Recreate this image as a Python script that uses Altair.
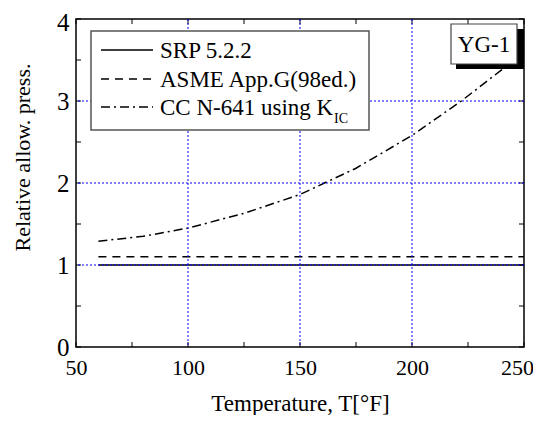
import altair as alt
import pandas as pd

# ---- data ----
series_names = ["SRP 5.2.2", "ASME App.G(98ed.)", "CC N-641 using K_IC"]
srp_temp = [60, 250]
srp_val = [1.0, 1.0]
asme_temp = [60, 250]
asme_val = [1.1, 1.1]
cc_temp = [60, 80, 100, 125, 150, 175, 200, 222, 240, 250]
cc_val = [1.29, 1.35, 1.45, 1.63, 1.86, 2.18, 2.58, 3.0, 3.38, 3.62]

x_labels = [50, 100, 150, 200, 250]
y_labels = [0, 1, 2, 3, 4]
x_grid = [100, 150, 200]
y_grid = [1, 2, 3]
x_ticks = [50, 75, 100, 125, 150, 175, 200, 225, 250]
y_ticks = [0, 0.5, 1, 1.5, 2, 2.5, 3, 3.5, 4]

FONT = "Liberation Serif"
W, H = 448, 328
dashes = [[1, 0], [8, 6], [9, 4, 2, 4]]

rows = []
for t, v in zip(srp_temp, srp_val):
    rows.append({"T": t, "v": v, "series": series_names[0]})
for t, v in zip(asme_temp, asme_val):
    rows.append({"T": t, "v": v, "series": series_names[1]})
for t, v in zip(cc_temp, cc_val):
    rows.append({"T": t, "v": v, "series": series_names[2]})
df = pd.DataFrame(rows)

xscale = alt.Scale(domain=[50, 250], nice=False, zero=False)
yscale = alt.Scale(domain=[0, 4], nice=False)

xaxis = alt.Axis(values=x_labels, ticks=False, domain=False, grid=False,
                 labelFont=FONT, labelFontSize=22, labelColor="black",
                 labelPadding=10, labelFlush=False, labelOverlap=False,
                 labelOffset={"condition": {"test": "datum.value == 250", "value": -7},
                              "value": 0},
                 title="Temperature, T[°F]", titleFont=FONT,
                 titleFontSize=23, titleFontWeight="normal",
                 titleColor="black", titleX=W / 2, titleY=63,
                 titleAlign="center", titleBaseline="alphabetic")
yaxis = alt.Axis(values=y_labels, ticks=False, domain=False, grid=False,
                 labelFont=FONT, labelFontSize=25, labelColor="black",
                 labelPadding=7, labelBaseline="middle",
                 labelOffset={"condition": {"test": "datum.value == 4", "value": 3},
                              "value": 0},
                 labelFlush=False, labelOverlap=False,
                 title="Relative allow. press.", titleFont=FONT,
                 titleFontSize=22, titleFontWeight="normal",
                 titleColor="black", titleX=-54, titleY=138,
                 titleAngle=270, titleAlign="center",
                 titleBaseline="middle")


def X():
    return alt.X("T:Q", scale=xscale, axis=xaxis)


def Y():
    return alt.Y("v:Q", scale=yscale, axis=yaxis)


one = pd.DataFrame({"k": [0]})

# data lines
lines = alt.Chart(df).mark_line(color="black", strokeWidth=1.5).encode(
    x=X(), y=Y(),
    strokeDash=alt.StrokeDash("series:N",
                              scale=alt.Scale(domain=series_names, range=dashes),
                              legend=None),
    order="T:Q",
)

# ticks (inward, all four sides)
xt = pd.DataFrame({"T": x_ticks})
yt = pd.DataFrame({"v": y_ticks})
tick_bottom = alt.Chart(xt).mark_rule(color="black", strokeWidth=1).encode(
    x=X(), y=alt.value(H), y2=alt.value(H - 5))
tick_top = alt.Chart(xt).mark_rule(color="black", strokeWidth=1).encode(
    x=X(), y=alt.value(0), y2=alt.value(5))
tick_left = alt.Chart(yt).mark_rule(color="black", strokeWidth=1).encode(
    y=Y(), x=alt.value(0), x2=alt.value(5))
tick_right = alt.Chart(yt).mark_rule(color="black", strokeWidth=1).encode(
    y=Y(), x=alt.value(W), x2=alt.value(W - 5))

# grid
gx = alt.Chart(pd.DataFrame({"T": x_grid})).mark_rule(
    color="#0000ff", strokeWidth=1, strokeDash=[2, 2]).encode(x=X())
gy = alt.Chart(pd.DataFrame({"v": y_grid})).mark_rule(
    color="#0000ff", strokeWidth=1, strokeDash=[2, 2]).encode(y=Y())

# legend (manual, to allow the subscript)
leg_box = alt.Chart(one).mark_rect(fill="white", stroke="#555555", strokeWidth=1.5).encode(
    x=alt.value(15), x2=alt.value(293), y=alt.value(12), y2=alt.value(111))
leg_layers = [leg_box]
row_y = [31, 60, 88]
leg_text = ["SRP 5.2.2", "ASME App.G(98ed.)", "CC N-641 using K"]
for i in range(3):
    leg_layers.append(
        alt.Chart(one).mark_rule(color="black", strokeWidth=1.5, strokeDash=dashes[i]).encode(
            x=alt.value(25), x2=alt.value(77), y=alt.value(row_y[i])))
    leg_layers.append(
        alt.Chart(one).mark_text(font=FONT, fontSize=23, align="left",
                                 baseline="alphabetic", color="black",
                                 text=leg_text[i]).encode(
            x=alt.value(84), y=alt.value(row_y[i] + 8)))
leg_layers.append(
    alt.Chart(one).mark_text(font=FONT, fontSize=14, align="left",
                             baseline="alphabetic", color="black", text="IC").encode(
        x=alt.value(258), y=alt.value(104)))

# YG-1 tag
shadow = alt.Chart(one).mark_rect(fill="black").encode(
    x=alt.value(380), x2=alt.value(W), y=alt.value(10), y2=alt.value(50))
tagbox = alt.Chart(one).mark_rect(fill="white", stroke="#444444", strokeWidth=1.2).encode(
    x=alt.value(375), x2=alt.value(441), y=alt.value(5), y2=alt.value(45))
tagtext = alt.Chart(one).mark_text(font=FONT, fontSize=23, align="center",
                                   baseline="middle", color="black", text="YG-1").encode(
    x=alt.value(408), y=alt.value(26))

chart = alt.layer(
    lines, tick_bottom, tick_top, tick_left, tick_right, gx, gy,
    *leg_layers, shadow, tagbox, tagtext
).properties(
    width=W, height=H,
    autosize=alt.AutoSizeParams(type="none"),
    padding={"left": 68, "top": 11, "right": 9, "bottom": 68},
    background="white",
).configure_view(stroke="black", strokeWidth=1.5)

chart.save("out.html", embed_options={"renderer": "svg", "actions": False})
